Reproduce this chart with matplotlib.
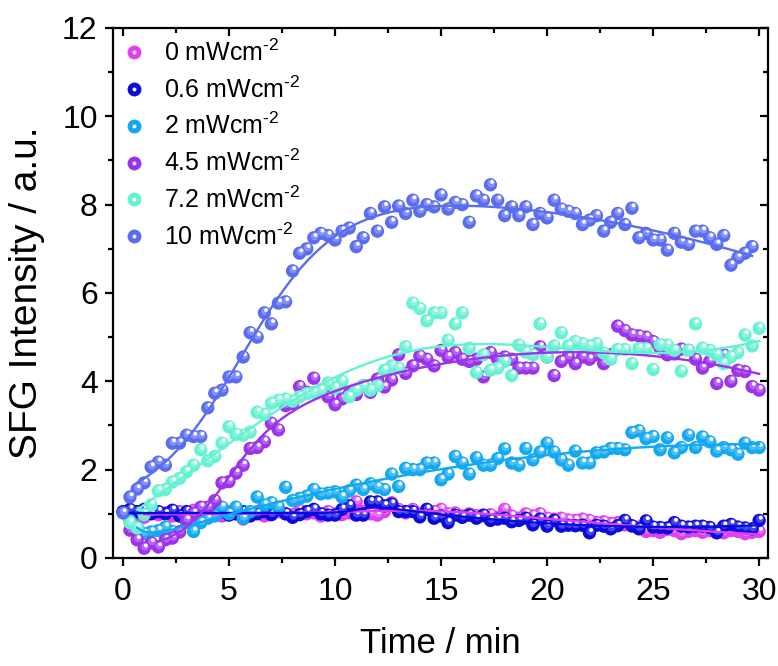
import numpy as np
import matplotlib.pyplot as plt
from matplotlib import transforms
from matplotlib.colors import to_rgb
from matplotlib.lines import Line2D
from matplotlib.legend_handler import HandlerTuple

# sampling grid, one spectrum every 20 s
time_min = [0.00, 0.33, 0.67, 1.00, 1.33, 1.67, 2.00, 2.33, 2.67, 3.00,
            3.33, 3.67, 4.00, 4.33, 4.67, 5.00, 5.33, 5.67, 6.00, 6.33,
            6.67, 7.00, 7.33, 7.67, 8.00, 8.33, 8.67, 9.00, 9.33, 9.67,
            10.00, 10.33, 10.67, 11.00, 11.33, 11.67, 12.00, 12.33, 12.67, 13.00,
            13.33, 13.67, 14.00, 14.33, 14.67, 15.00, 15.33, 15.67, 16.00, 16.33,
            16.67, 17.00, 17.33, 17.67, 18.00, 18.33, 18.67, 19.00, 19.33, 19.67,
            20.00, 20.33, 20.67, 21.00, 21.33, 21.67, 22.00, 22.33, 22.67, 23.00,
            23.33, 23.67, 24.00, 24.33, 24.67, 25.00, 25.33, 25.67, 26.00, 26.33,
            26.67, 27.00, 27.33, 27.67, 28.00, 28.33, 28.67, 29.00, 29.33, 29.67,
            30.00]

nan = float('nan')

p0 = [nan, 0.95, 1.00, 0.92, 1.05, 0.98, 1.02, 0.95, 1.05, 1.00,
      1.08, 0.98, 1.05, 1.00, 0.95, 1.05, 1.00, 0.88, 1.02, 1.05,
      0.95, 1.00, 1.05, 1.00, 0.98, 1.08, 1.00, 1.02, 0.95, 1.05,
      1.00, 0.98, 1.02, 1.27, 1.05, 1.00, 0.97, 1.05, 1.25, 1.10,
      1.02, 1.10, 1.00, 1.10, 1.05, 1.10, 1.00, 1.02, 0.95, 1.00,
      0.96, 0.95, 0.98, 0.92, 1.10, 0.95, 0.90, 1.00, 0.95, 1.00,
      0.90, 0.88, 0.90, 0.86, 0.85, 0.88, 0.85, 0.80, 0.82, 0.78,
      0.80, 0.75, 0.72, 0.70, 0.60, 0.62, 0.58, 0.65, 0.62, 0.55,
      0.60, 0.62, 0.58, 0.62, 0.60, 0.57, 0.62, 0.60, 0.55, 0.58,
      0.60]

p06 = [1.05, 1.10, 1.05, 1.10, 1.00, 1.05, 1.00, 1.08, 0.95, 1.05,
       1.00, 1.05, 0.92, 1.00, 1.05, 0.97, 1.00, 1.05, 0.95, 1.00,
       1.05, 0.98, 1.10, 1.00, 0.92, 0.98, 1.05, 1.10, 1.00, 0.97,
       0.97, 1.10, 1.18, 0.97, 0.97, 1.27, 1.27, 1.18, 1.22, 1.05,
       1.05, 1.05, 0.93, 1.10, 0.90, 0.95, 0.80, 0.97, 0.92, 0.97,
       0.90, 0.97, 0.85, 0.88, 0.90, 0.82, 0.85, 0.90, 0.75, 0.88,
       0.72, 0.85, 0.72, 0.74, 0.73, 0.74, 0.57, 0.74, 0.72, 0.66,
       0.73, 0.85, 0.73, 0.66, 0.84, 0.70, 0.69, 0.68, 0.80, 0.72,
       0.70, 0.72, 0.72, 0.69, 0.57, 0.72, 0.76, 0.70, 0.68, 0.66,
       0.85]

p2 = [nan, 0.85, 0.70, 0.55, 0.59, 0.62, 0.70, 0.60, 0.59, 0.80,
      0.60, 0.80, 0.90, 0.95, 1.15, 1.00, 1.15, 0.90, 1.05, 1.38,
      1.20, 1.25, 1.15, 1.60, 1.30, 1.35, 1.40, 1.55, 1.45, 1.47,
      1.50, 1.38, 1.52, 1.65, 1.55, 1.68, 1.60, 1.55, 1.90, 1.62,
      2.03, 2.00, 2.00, 2.15, 2.15, 1.77, 1.90, 2.30, 2.15, 1.90,
      2.27, 2.10, 2.10, 2.25, 2.47, 2.15, 2.10, 2.48, 2.22, 2.40,
      2.60, 2.40, 2.22, 2.10, 2.42, 2.15, 2.15, 2.38, 2.40, 2.48,
      2.48, 2.45, 2.84, 2.88, 2.70, 2.75, 2.45, 2.72, 2.38, 2.50,
      2.78, 2.50, 2.74, 2.63, 2.42, 2.50, 2.45, 2.35, 2.60, 2.50,
      2.50]

p45 = [nan, 0.63, 0.41, 0.22, 0.34, 0.25, 0.41, 0.45, 0.59, 0.86,
       1.01, 1.15, 1.15, 1.30, 1.70, 1.73, 1.92, 2.10, 2.48, 2.50,
       2.63, 3.05, 2.90, 3.45, 3.50, 3.88, 3.75, 4.07, 3.80, 3.65,
       3.47, 3.60, 3.72, 3.70, 3.90, 3.75, 4.05, 3.87, 4.03, 4.60,
       4.18, 4.35, 4.57, 4.50, 4.35, 4.70, 4.55, 4.65, 4.50, 4.45,
       4.50, 4.10, 4.65, 4.50, 4.55, 4.50, 4.30, 4.30, 4.30, 4.78,
       4.55, 4.13, 4.45, 4.55, 4.40, 4.55, 4.50, 4.60, 4.40, 4.60,
       5.25, 5.15, 5.05, 5.03, 5.00, 4.90, 4.75, 4.60, 4.62, 4.73,
       4.70, 4.50, 4.30, 4.45, 3.95, 4.60, 4.00, 4.25, 4.22, 3.88,
       3.80]

p72 = [nan, 0.80, 0.68, 0.98, 1.20, 1.52, 1.55, 1.72, 1.80, 1.95,
       2.10, 2.45, 2.20, 2.30, 2.60, 2.97, 2.80, 2.78, 2.85, 3.30,
       3.25, 3.50, 3.57, 3.60, 3.55, 3.65, 3.72, 3.75, 3.80, 3.96,
       3.85, 4.00, 3.65, 3.80, 3.90, 3.80, 3.90, 4.25, 4.35, 4.30,
       4.78, 5.77, 5.65, 5.37, 5.55, 5.55, 4.93, 5.30, 5.55, 4.75,
       4.20, 4.60, 4.25, 4.30, 4.45, 4.13, 4.82, 4.66, 4.60, 5.30,
       4.55, 4.80, 5.10, 4.80, 4.90, 4.85, 4.80, 4.85, 4.64, 4.50,
       4.72, 4.72, 4.40, 4.74, 4.74, 4.27, 4.83, 4.82, 4.70, 4.23,
       4.70, 5.30, 4.75, 4.70, 4.60, 4.40, 4.55, 4.65, 5.05, 4.80,
       5.20]

p10 = [1.02, 1.38, 1.56, 1.70, 2.06, 2.17, 2.10, 2.60, 2.60, 2.78,
       2.75, 2.75, 3.40, 3.73, 3.80, 4.10, 4.10, 4.55, 5.10, 5.00,
       5.55, 5.30, 5.77, 5.80, 6.50, 6.90, 7.00, 7.25, 7.35, 7.30,
       7.20, 7.40, 7.47, 7.05, 7.25, 7.80, 7.40, 7.95, 7.60, 7.97,
       7.80, 8.10, 7.85, 8.00, 7.95, 8.22, 7.90, 8.05, 8.00, 7.60,
       8.20, 8.10, 8.45, 8.10, 7.75, 7.95, 7.75, 7.95, 7.55, 7.80,
       7.70, 8.10, 7.90, 7.85, 7.80, 7.55, 7.65, 7.75, 7.40, 7.60,
       7.80, 7.55, 7.92, 7.25, 7.35, 7.20, 7.20, 6.97, 7.35, 7.15,
       7.10, 7.40, 7.40, 7.25, 7.10, 7.30, 6.63, 6.80, 6.90, 7.05,
       nan]

labels = ['0 mWcm$^{\\text{-2}}$', '0.6 mWcm$^{\\text{-2}}$',
          '2 mWcm$^{\\text{-2}}$', '4.5 mWcm$^{\\text{-2}}$',
          '7.2 mWcm$^{\\text{-2}}$', '10 mWcm$^{\\text{-2}}$']
colors = ['#E040F2', '#0A0AE0', '#12A8F2', '#9B32EE', '#66F2D2', '#5A6CF2']
fit_start = [1.0, 0.33, 0.67, 1.67, 0.67, 0.67]   # min, start of fitted range

series = [p0, p06, p2, p45, p72, p10]


def sigmoid_fit(x, y, xs):
    """Least squares fit of y = c0 + sig(x) * (c1 + c2 x + c3 x^2),
    sig a logistic step; the step centre and width are scanned."""
    best = None
    for x0 in np.linspace(-6, 14, 81):
        for w in np.linspace(0.4, 6, 29):
            s = 1 / (1 + np.exp(-(x - x0) / w))
            A = np.column_stack([np.ones_like(x), s, s * x, s * x ** 2])
            coef = np.linalg.lstsq(A, y, rcond=None)[0]
            rss = np.sum((A @ coef - y) ** 2)
            if best is None or rss < best[0]:
                best = (rss, x0, w, coef)
    _, x0, w, coef = best
    s = 1 / (1 + np.exp(-(xs - x0) / w))
    return coef[0] + s * (coef[1] + coef[2] * xs + coef[3] * xs ** 2)


plt.rcParams['font.family'] = ['Liberation Sans', 'DejaVu Sans']
plt.rcParams['mathtext.fontset'] = 'custom'
plt.rcParams['mathtext.rm'] = 'Liberation Sans'

fig = plt.figure(figsize=(7.78, 6.66), dpi=100)
ax = fig.add_axes([0.1452, 0.1622, 0.842, 0.7958])

t = np.array(time_min)
hl = transforms.offset_copy(ax.transData, fig=fig, x=1.2, y=2.0, units='points')
mid = transforms.offset_copy(ax.transData, fig=fig, x=0.6, y=1.0, units='points')


def lighten(c, f):
    r, g, b = to_rgb(c)
    return (r + (1 - r) * f, g + (1 - g) * f, b + (1 - b) * f)


for y, c in zip(series, colors):
    y = np.array(y, dtype=float)
    ax.scatter(t, y, s=92, color=c, edgecolors='none', zorder=3)
    ax.scatter(t, y, s=32, color=lighten(c, 0.25), edgecolors='none',
               zorder=3, transform=mid)
    ax.scatter(t, y, s=8, color='white', edgecolors='none', zorder=3,
               transform=hl)

# fitted curves
for y, c, t0 in zip(series, colors, fit_start):
    y = np.array(y, dtype=float)
    m = (t >= t0 - 0.01) & ~np.isnan(y)
    tt = np.linspace(t[m][0], t[m][-1], 300)
    ax.plot(tt, sigmoid_fit(t[m], y[m], tt), color=c, lw=1.7, zorder=4)

ax.set_xlim(-0.47, 30.42)
ax.set_ylim(0, 12)
xmaj, xmin = [0, 5, 10, 15, 20, 25, 30], np.arange(2.5, 30, 5)
ymaj, ymin = [0, 2, 4, 6, 8, 10, 12], np.arange(1, 12, 2)
ax.set_xticks(xmaj)
ax.set_xticks(xmin, minor=True)
ax.set_yticks(ymaj)
ax.set_yticks(ymin, minor=True)
for s in ax.spines.values():
    s.set_linewidth(1.6)
ax.tick_params(which='both', direction='out', width=1.6, labelsize=23,
               top=False, right=False, pad=5)
ax.tick_params(axis='x', pad=8)
ax.tick_params(which='major', length=6)
ax.tick_params(which='minor', length=3.5)

# mirrored ticks pointing inwards on top and right
top = ax.secondary_xaxis('top')
top.set_xticks(xmaj)
top.set_xticks(xmin, minor=True)
top.tick_params(which='both', direction='in', width=1.6, labeltop=False)
right = ax.secondary_yaxis('right')
right.set_yticks(ymaj)
right.set_yticks(ymin, minor=True)
right.tick_params(which='both', direction='in', width=1.6, labelright=False)
for sec in (top, right):
    sec.tick_params(which='major', length=6)
    sec.tick_params(which='minor', length=3.5)
    sec.spines[:].set_visible(False)

ax.set_xlabel('Time / min', fontsize=25, labelpad=14)
ax.set_ylabel('SFG Intensity / a.u.', fontsize=28, labelpad=12)

handles = []
for c in colors:
    base = Line2D([], [], ls='none', marker='o', ms=10, mfc=c, mec='none')
    shine = Line2D([], [], ls='none', marker='o', ms=2.8, mfc='white',
                   mec='none')
    handles.append((base, shine))
ax.legend(handles, labels, handler_map={tuple: HandlerTuple(ndivide=1, pad=0)},
          loc='upper left', frameon=False, fontsize=18, handlelength=0.8,
          handletextpad=0.8, labelspacing=0.42, borderpad=0.2,
          borderaxespad=0.25)

fig.savefig('out.png', dpi=100)
